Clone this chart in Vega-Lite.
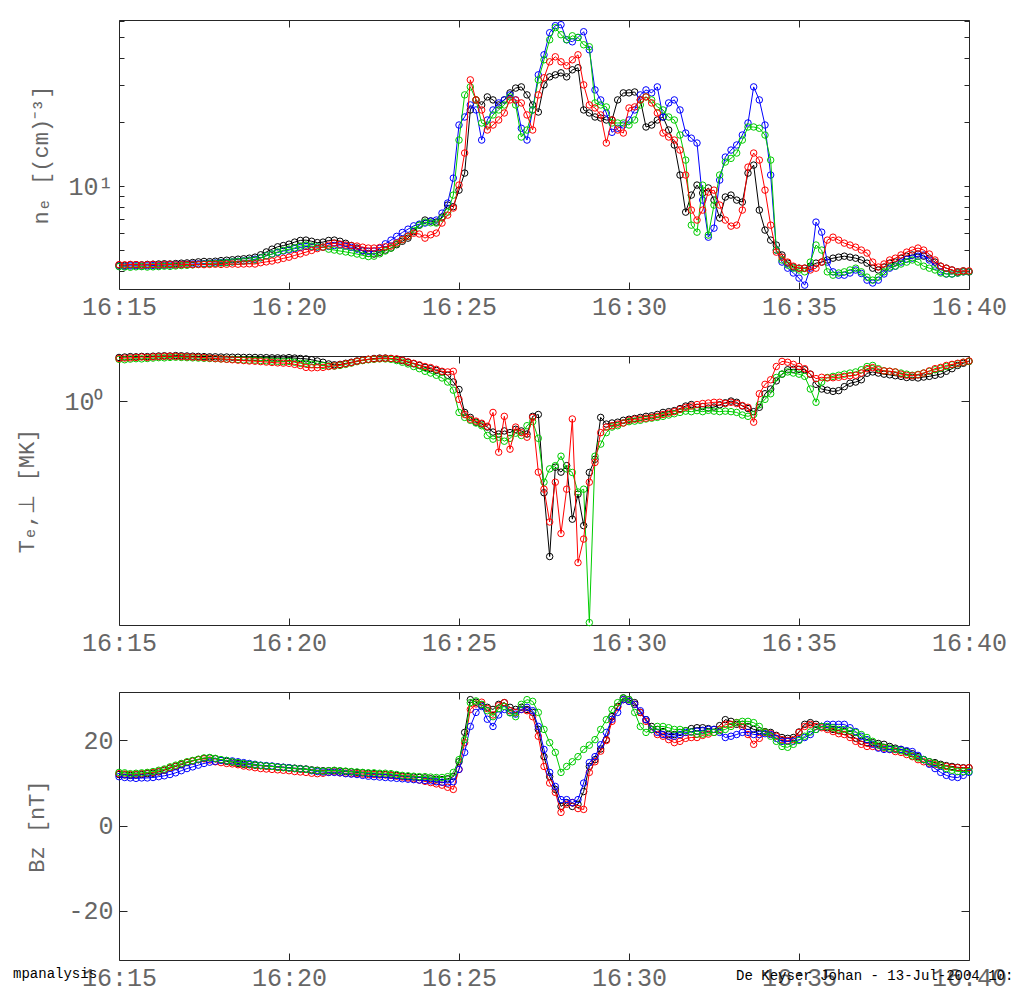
{
"$schema": "https://vega.github.io/schema/vega-lite/v6.json",
"background": "#ffffff",
"padding": {"left": 12, "top": 8, "right": 0, "bottom": 0},
"spacing": 67,
"bounds": "flush",
"data": {"values": [
{"t":900,"nK":4.25,"nB":4.20,"nR":4.27,"nG":4.18,"TK":1.193,"TR":1.188,"TG":1.184,"BK":12.0,"BB":11.5,"BR":12.2,"BG":12.5},
{"t":910,"nK":4.24,"nB":4.19,"nR":4.26,"nG":4.16,"TK":1.195,"TR":1.190,"TG":1.182,"BK":11.9,"BB":11.3,"BR":12.1,"BG":12.4},
{"t":920,"nK":4.26,"nB":4.21,"nR":4.28,"nG":4.15,"TK":1.197,"TR":1.191,"TG":1.185,"BK":11.8,"BB":11.2,"BR":12.0,"BG":12.2},
{"t":930,"nK":4.27,"nB":4.22,"nR":4.27,"nG":4.17,"TK":1.196,"TR":1.193,"TG":1.187,"BK":11.9,"BB":11.1,"BR":12.1,"BG":12.3},
{"t":940,"nK":4.26,"nB":4.20,"nR":4.25,"nG":4.18,"TK":1.198,"TR":1.195,"TG":1.186,"BK":12.0,"BB":11.2,"BR":12.2,"BG":12.4},
{"t":950,"nK":4.28,"nB":4.22,"nR":4.27,"nG":4.16,"TK":1.197,"TR":1.193,"TG":1.188,"BK":12.2,"BB":11.2,"BR":12.4,"BG":12.5},
{"t":960,"nK":4.29,"nB":4.23,"nR":4.28,"nG":4.17,"TK":1.199,"TR":1.196,"TG":1.190,"BK":12.3,"BB":11.3,"BR":12.5,"BG":12.7},
{"t":970,"nK":4.30,"nB":4.22,"nR":4.26,"nG":4.18,"TK":1.200,"TR":1.197,"TG":1.192,"BK":12.6,"BB":11.5,"BR":12.8,"BG":13.0},
{"t":980,"nK":4.31,"nB":4.24,"nR":4.27,"nG":4.20,"TK":1.201,"TR":1.198,"TG":1.191,"BK":13.0,"BB":11.7,"BR":13.1,"BG":13.3},
{"t":990,"nK":4.30,"nB":4.25,"nR":4.28,"nG":4.19,"TK":1.200,"TR":1.199,"TG":1.193,"BK":13.5,"BB":12.0,"BR":13.6,"BG":13.8},
{"t":1000,"nK":4.32,"nB":4.26,"nR":4.26,"nG":4.21,"TK":1.202,"TR":1.198,"TG":1.194,"BK":13.9,"BB":12.4,"BR":14.0,"BG":14.2},
{"t":1010,"nK":4.34,"nB":4.27,"nR":4.27,"nG":4.23,"TK":1.201,"TR":1.197,"TG":1.193,"BK":14.3,"BB":12.9,"BR":14.5,"BG":14.6},
{"t":1020,"nK":4.35,"nB":4.28,"nR":4.28,"nG":4.24,"TK":1.200,"TR":1.196,"TG":1.192,"BK":14.8,"BB":13.4,"BR":14.9,"BG":15.0},
{"t":1030,"nK":4.37,"nB":4.30,"nR":4.27,"nG":4.26,"TK":1.199,"TR":1.195,"TG":1.191,"BK":15.2,"BB":13.8,"BR":15.2,"BG":15.3},
{"t":1040,"nK":4.40,"nB":4.31,"nR":4.28,"nG":4.28,"TK":1.198,"TR":1.194,"TG":1.190,"BK":15.5,"BB":14.2,"BR":15.5,"BG":15.6},
{"t":1050,"nK":4.42,"nB":4.32,"nR":4.27,"nG":4.30,"TK":1.197,"TR":1.192,"TG":1.189,"BK":15.8,"BB":14.6,"BR":15.7,"BG":15.9},
{"t":1060,"nK":4.41,"nB":4.33,"nR":4.28,"nG":4.32,"TK":1.196,"TR":1.190,"TG":1.188,"BK":15.9,"BB":14.9,"BR":15.4,"BG":16.0},
{"t":1070,"nK":4.43,"nB":4.35,"nR":4.29,"nG":4.33,"TK":1.196,"TR":1.188,"TG":1.187,"BK":15.7,"BB":15.1,"BR":15.0,"BG":15.8},
{"t":1080,"nK":4.46,"nB":4.37,"nR":4.28,"nG":4.35,"TK":1.195,"TR":1.186,"TG":1.186,"BK":15.4,"BB":15.3,"BR":14.8,"BG":15.5},
{"t":1090,"nK":4.48,"nB":4.38,"nR":4.29,"nG":4.37,"TK":1.195,"TR":1.184,"TG":1.185,"BK":15.1,"BB":15.3,"BR":14.6,"BG":15.3},
{"t":1100,"nK":4.50,"nB":4.40,"nR":4.30,"nG":4.40,"TK":1.194,"TR":1.182,"TG":1.184,"BK":14.9,"BB":15.2,"BR":14.5,"BG":15.0},
{"t":1110,"nK":4.53,"nB":4.43,"nR":4.29,"nG":4.42,"TK":1.194,"TR":1.180,"TG":1.183,"BK":14.6,"BB":15.0,"BR":14.3,"BG":14.8},
{"t":1120,"nK":4.55,"nB":4.45,"nR":4.30,"nG":4.44,"TK":1.193,"TR":1.178,"TG":1.181,"BK":14.4,"BB":14.8,"BR":14.0,"BG":14.6},
{"t":1130,"nK":4.58,"nB":4.48,"nR":4.31,"nG":4.47,"TK":1.193,"TR":1.176,"TG":1.180,"BK":14.3,"BB":14.6,"BR":13.8,"BG":14.4},
{"t":1140,"nK":4.63,"nB":4.53,"nR":4.30,"nG":4.49,"TK":1.193,"TR":1.175,"TG":1.180,"BK":14.2,"BB":14.4,"BR":13.6,"BG":14.3},
{"t":1150,"nK":4.75,"nB":4.60,"nR":4.36,"nG":4.60,"TK":1.192,"TR":1.173,"TG":1.178,"BK":14.1,"BB":14.2,"BR":13.4,"BG":14.1},
{"t":1160,"nK":4.90,"nB":4.70,"nR":4.40,"nG":4.70,"TK":1.192,"TR":1.171,"TG":1.177,"BK":14.0,"BB":14.1,"BR":13.3,"BG":14.0},
{"t":1170,"nK":5.05,"nB":4.79,"nR":4.44,"nG":4.79,"TK":1.191,"TR":1.169,"TG":1.175,"BK":13.9,"BB":14.0,"BR":13.2,"BG":13.9},
{"t":1180,"nK":5.18,"nB":4.87,"nR":4.50,"nG":4.90,"TK":1.191,"TR":1.167,"TG":1.174,"BK":13.8,"BB":13.8,"BR":13.1,"BG":13.7},
{"t":1190,"nK":5.25,"nB":4.95,"nR":4.57,"nG":4.98,"TK":1.190,"TR":1.166,"TG":1.173,"BK":13.7,"BB":13.7,"BR":13.0,"BG":13.6},
{"t":1200,"nK":5.33,"nB":5.00,"nR":4.63,"nG":5.05,"TK":1.192,"TR":1.165,"TG":1.174,"BK":13.6,"BB":13.6,"BR":12.9,"BG":13.5},
{"t":1210,"nK":5.45,"nB":5.08,"nR":4.72,"nG":5.12,"TK":1.190,"TR":1.160,"TG":1.170,"BK":13.5,"BB":13.4,"BR":12.7,"BG":13.4},
{"t":1220,"nK":5.55,"nB":5.14,"nR":4.80,"nG":5.22,"TK":1.188,"TR":1.155,"TG":1.165,"BK":13.4,"BB":13.3,"BR":12.6,"BG":13.3},
{"t":1230,"nK":5.57,"nB":5.20,"nR":4.89,"nG":5.28,"TK":1.186,"TR":1.146,"TG":1.165,"BK":13.3,"BB":13.2,"BR":12.5,"BG":13.2},
{"t":1240,"nK":5.50,"nB":5.18,"nR":4.98,"nG":5.22,"TK":1.182,"TR":1.144,"TG":1.160,"BK":13.1,"BB":12.9,"BR":12.3,"BG":13.0},
{"t":1250,"nK":5.42,"nB":5.16,"nR":5.08,"nG":5.18,"TK":1.176,"TR":1.145,"TG":1.158,"BK":13.0,"BB":12.7,"BR":12.2,"BG":12.9},
{"t":1260,"nK":5.45,"nB":5.16,"nR":5.16,"nG":5.16,"TK":1.170,"TR":1.146,"TG":1.155,"BK":12.9,"BB":12.6,"BR":12.3,"BG":12.8},
{"t":1270,"nK":5.55,"nB":5.20,"nR":5.28,"nG":5.05,"TK":1.162,"TR":1.150,"TG":1.153,"BK":12.9,"BB":12.5,"BR":12.5,"BG":12.9},
{"t":1280,"nK":5.57,"nB":5.25,"nR":5.39,"nG":5.00,"TK":1.158,"TR":1.153,"TG":1.152,"BK":12.9,"BB":12.5,"BR":12.6,"BG":13.0},
{"t":1290,"nK":5.50,"nB":5.28,"nR":5.33,"nG":4.95,"TK":1.160,"TR":1.158,"TG":1.155,"BK":12.8,"BB":12.4,"BR":12.4,"BG":12.9},
{"t":1300,"nK":5.38,"nB":5.22,"nR":5.28,"nG":4.90,"TK":1.165,"TR":1.163,"TG":1.160,"BK":12.7,"BB":12.2,"BR":12.3,"BG":12.8},
{"t":1310,"nK":5.25,"nB":5.15,"nR":5.25,"nG":4.85,"TK":1.170,"TR":1.168,"TG":1.166,"BK":12.6,"BB":12.1,"BR":12.2,"BG":12.7},
{"t":1320,"nK":5.11,"nB":5.05,"nR":5.22,"nG":4.79,"TK":1.176,"TR":1.175,"TG":1.173,"BK":12.5,"BB":12.0,"BR":12.2,"BG":12.6},
{"t":1330,"nK":4.95,"nB":4.98,"nR":5.16,"nG":4.72,"TK":1.180,"TR":1.180,"TG":1.178,"BK":12.4,"BB":11.8,"BR":12.1,"BG":12.5},
{"t":1340,"nK":4.82,"nB":4.93,"nR":5.11,"nG":4.66,"TK":1.184,"TR":1.184,"TG":1.182,"BK":12.3,"BB":11.6,"BR":12.0,"BG":12.4},
{"t":1350,"nK":4.79,"nB":4.95,"nR":5.11,"nG":4.68,"TK":1.188,"TR":1.186,"TG":1.184,"BK":12.2,"BB":11.5,"BR":12.0,"BG":12.4},
{"t":1360,"nK":4.88,"nB":5.10,"nR":5.14,"nG":4.80,"TK":1.190,"TR":1.188,"TG":1.186,"BK":12.1,"BB":11.4,"BR":11.9,"BG":12.3},
{"t":1370,"nK":5.00,"nB":5.35,"nR":5.18,"nG":4.95,"TK":1.190,"TR":1.189,"TG":1.186,"BK":12.0,"BB":11.3,"BR":11.9,"BG":12.3},
{"t":1380,"nK":5.11,"nB":5.57,"nR":5.22,"nG":5.11,"TK":1.188,"TR":1.188,"TG":1.184,"BK":11.9,"BB":11.2,"BR":11.8,"BG":12.2},
{"t":1390,"nK":5.30,"nB":5.80,"nR":5.40,"nG":5.35,"TK":1.184,"TR":1.186,"TG":1.178,"BK":11.8,"BB":11.1,"BR":11.6,"BG":12.0},
{"t":1400,"nK":5.50,"nB":6.05,"nR":5.60,"nG":5.60,"TK":1.178,"TR":1.180,"TG":1.170,"BK":11.6,"BB":11.0,"BR":11.4,"BG":11.8},
{"t":1410,"nK":5.69,"nB":6.27,"nR":5.81,"nG":5.81,"TK":1.170,"TR":1.172,"TG":1.162,"BK":11.5,"BB":10.9,"BR":11.2,"BG":11.7},
{"t":1420,"nK":6.10,"nB":6.50,"nR":6.00,"nG":6.20,"TK":1.163,"TR":1.165,"TG":1.150,"BK":11.4,"BB":10.8,"BR":11.0,"BG":11.6},
{"t":1430,"nK":6.55,"nB":6.62,"nR":5.95,"nG":6.55,"TK":1.155,"TR":1.158,"TG":1.140,"BK":11.3,"BB":10.7,"BR":10.7,"BG":11.5},
{"t":1440,"nK":6.92,"nB":6.70,"nR":5.69,"nG":6.77,"TK":1.146,"TR":1.150,"TG":1.128,"BK":11.2,"BB":10.6,"BR":10.4,"BG":11.5},
{"t":1450,"nK":6.85,"nB":6.85,"nR":5.90,"nG":6.72,"TK":1.140,"TR":1.145,"TG":1.120,"BK":11.0,"BB":10.5,"BR":10.1,"BG":11.4},
{"t":1460,"nK":6.77,"nB":6.92,"nR":6.01,"nG":6.70,"TK":1.132,"TR":1.137,"TG":1.110,"BK":10.9,"BB":10.3,"BR":9.8,"BG":11.3},
{"t":1470,"nK":7.15,"nB":7.46,"nR":6.70,"nG":7.07,"TK":1.125,"TR":1.128,"TG":1.098,"BK":10.8,"BB":10.2,"BR":9.5,"BG":11.3},
{"t":1480,"nK":8.14,"nB":8.32,"nR":7.30,"nG":7.54,"TK":1.110,"TR":1.125,"TG":1.080,"BK":11.0,"BB":10.0,"BR":9.0,"BG":11.5},
{"t":1490,"nK":8.00,"nB":10.9,"nR":7.88,"nG":9.07,"TK":1.080,"TR":1.128,"TG":1.045,"BK":11.5,"BB":10.3,"BR":8.5,"BG":12.5},
{"t":1500,"nK":9.57,"nB":19.37,"nR":10.11,"nG":16.46,"TK":1.048,"TR":1.007,"TG":0.955,"BK":15.0,"BB":13.2,"BR":13.2,"BG":15.5},
{"t":1510,"nK":11.51,"nB":21.13,"nR":14.30,"nG":26.84,"TK":0.955,"TR":0.947,"TG":0.936,"BK":21.9,"BB":17.2,"BR":19.5,"BG":20.2},
{"t":1520,"nK":22.8,"nB":24.07,"nR":31.59,"nG":29.27,"TK":0.936,"TR":0.929,"TG":0.925,"BK":29.6,"BB":23.3,"BR":27.3,"BG":28.9},
{"t":1530,"nK":25.42,"nB":22.8,"nR":25.42,"nG":25.42,"TK":0.918,"TR":0.922,"TG":0.915,"BK":29.0,"BB":26.6,"BR":28.6,"BG":29.3},
{"t":1540,"nK":24.07,"nB":16.46,"nR":22.8,"nG":19.80,"TK":0.911,"TR":0.914,"TG":0.905,"BK":28.3,"BB":28.0,"BR":29.0,"BG":28.5},
{"t":1550,"nK":26.26,"nB":20.45,"nR":18.35,"nG":19.37,"TK":0.900,"TR":0.903,"TG":0.870,"BK":27.8,"BB":25.0,"BR":27.5,"BG":27.0},
{"t":1560,"nK":25.42,"nB":22.8,"nR":19.37,"nG":21.6,"TK":0.882,"TR":0.955,"TG":0.857,"BK":27.3,"BB":23.3,"BR":26.0,"BG":25.6},
{"t":1570,"nK":24.07,"nB":24.6,"nR":20.45,"nG":22.8,"TK":0.875,"TR":0.813,"TG":0.864,"BK":28.5,"BB":26.0,"BR":28.2,"BG":27.5},
{"t":1580,"nK":25.42,"nB":25.42,"nR":22.07,"nG":24.07,"TK":0.886,"TR":0.940,"TG":0.850,"BK":28.9,"BB":27.3,"BR":28.9,"BG":28.0},
{"t":1590,"nK":27.43,"nB":26.84,"nR":25.42,"nG":26.26,"TK":0.880,"TR":0.823,"TG":0.860,"BK":27.8,"BB":26.6,"BR":27.0,"BG":26.5},
{"t":1600,"nK":28.9,"nB":25.42,"nR":25.42,"nG":24.07,"TK":0.892,"TR":0.900,"TG":0.878,"BK":27.3,"BB":26.2,"BR":26.6,"BG":25.6},
{"t":1610,"nK":29.27,"nB":18.7,"nR":24.6,"nG":17.01,"TK":0.886,"TR":0.880,"TG":0.870,"BK":27.8,"BB":27.3,"BR":27.3,"BG":28.5},
{"t":1620,"nK":26.84,"nB":16.46,"nR":21.6,"nG":18.35,"TK":0.875,"TR":0.864,"TG":0.905,"BK":27.3,"BB":27.8,"BR":27.0,"BG":29.6},
{"t":1630,"nK":24.07,"nB":22.8,"nR":18.35,"nG":22.8,"TK":0.940,"TR":0.936,"TG":0.920,"BK":26.6,"BB":27.0,"BR":25.6,"BG":29.2},
{"t":1640,"nK":22.3,"nB":33.35,"nR":26.84,"nG":31.59,"TK":0.947,"TR":0.750,"TG":0.860,"BK":22.6,"BB":23.3,"BR":21.0,"BG":26.6},
{"t":1650,"nK":29.92,"nB":41.44,"nR":32.3,"nG":39.25,"TK":0.690,"TR":0.700,"TG":0.720,"BK":16.2,"BB":17.9,"BR":13.9,"BG":22.6},
{"t":1660,"nK":32.63,"nB":52.62,"nR":38.4,"nG":48.77,"TK":0.533,"TR":0.613,"TG":0.760,"BK":11.5,"BB":12.5,"BR":10.0,"BG":19.5},
{"t":1670,"nK":33.35,"nB":56.8,"nR":40.55,"nG":55.6,"TK":0.765,"TR":0.720,"TG":0.770,"BK":8.5,"BB":9.2,"BR":7.8,"BG":17.2},
{"t":1680,"nK":34.08,"nB":57.4,"nR":38.4,"nG":51.49,"TK":0.750,"TR":0.585,"TG":0.800,"BK":4.5,"BB":6.1,"BR":3.1,"BG":12.5},
{"t":1690,"nK":32.63,"nB":48.77,"nR":36.8,"nG":48.77,"TK":0.770,"TR":0.700,"TG":0.760,"BK":5.4,"BB":6.1,"BR":5.0,"BG":13.9},
{"t":1700,"nK":35.21,"nB":47.7,"nR":39.25,"nG":50.9,"TK":0.620,"TR":0.930,"TG":0.749,"BK":4.5,"BB":5.4,"BR":5.4,"BG":15.0},
{"t":1710,"nK":36.0,"nB":50.0,"nR":41.44,"nG":50.0,"TK":0.686,"TR":0.520,"TG":0.692,"BK":5.0,"BB":6.1,"BR":4.0,"BG":16.2},
{"t":1720,"nK":22.8,"nB":53.2,"nR":29.92,"nG":46.19,"TK":0.604,"TR":0.572,"TG":0.700,"BK":8.0,"BB":10.0,"BR":3.8,"BG":17.9},
{"t":1730,"nK":22.07,"nB":43.75,"nR":24.07,"nG":45.2,"TK":0.749,"TR":0.720,"TG":0.408,"BK":13.9,"BB":14.8,"BR":12.5,"BG":18.9},
{"t":1740,"nK":21.13,"nB":28.33,"nR":23.3,"nG":24.6,"TK":0.790,"TR":0.780,"TG":0.800,"BK":15.5,"BB":16.2,"BR":15.0,"BG":20.2},
{"t":1750,"nK":20.9,"nB":25.42,"nR":21.6,"nG":24.07,"TK":0.936,"TR":0.880,"TG":0.840,"BK":18.0,"BB":19.0,"BR":17.5,"BG":22.6},
{"t":1760,"nK":20.45,"nB":22.07,"nR":15.94,"nG":23.56,"TK":0.911,"TR":0.900,"TG":0.880,"BK":20.2,"BB":21.9,"BR":20.0,"BG":24.9},
{"t":1770,"nK":20.45,"nB":17.9,"nR":20.45,"nG":19.8,"TK":0.915,"TR":0.905,"TG":0.900,"BK":25.6,"BB":25.0,"BR":24.5,"BG":27.3},
{"t":1780,"nK":25.42,"nB":18.7,"nR":18.35,"nG":19.8,"TK":0.918,"TR":0.911,"TG":0.905,"BK":28.0,"BB":26.6,"BR":27.8,"BG":28.9},
{"t":1790,"nK":27.43,"nB":19.37,"nR":17.76,"nG":19.8,"TK":0.925,"TR":0.915,"TG":0.915,"BK":30.0,"BB":29.6,"BR":29.6,"BG":30.0},
{"t":1800,"nK":27.43,"nB":20.45,"nR":23.3,"nG":19.37,"TK":0.929,"TR":0.925,"TG":0.920,"BK":29.6,"BB":29.2,"BR":29.2,"BG":29.6},
{"t":1810,"nK":27.7,"nB":22.8,"nR":23.56,"nG":20.45,"TK":0.932,"TR":0.929,"TG":0.922,"BK":28.9,"BB":28.5,"BR":28.5,"BG":26.6},
{"t":1820,"nK":25.42,"nB":26.84,"nR":25.42,"nG":24.07,"TK":0.936,"TR":0.930,"TG":0.925,"BK":26.6,"BB":27.0,"BR":26.6,"BG":23.3},
{"t":1830,"nK":18.96,"nB":28.33,"nR":26.26,"nG":26.26,"TK":0.940,"TR":0.933,"TG":0.930,"BK":24.9,"BB":24.9,"BR":24.5,"BG":21.9},
{"t":1840,"nK":19.37,"nB":27.43,"nR":24.6,"nG":25.42,"TK":0.942,"TR":0.936,"TG":0.933,"BK":23.3,"BB":22.6,"BR":22.6,"BG":22.6},
{"t":1850,"nK":20.45,"nB":29.27,"nR":22.07,"nG":23.56,"TK":0.947,"TR":0.940,"TG":0.936,"BK":22.6,"BB":21.9,"BR":21.4,"BG":23.3},
{"t":1860,"nK":21.13,"nB":21.13,"nR":17.76,"nG":22.8,"TK":0.955,"TR":0.947,"TG":0.940,"BK":22.1,"BB":21.4,"BR":21.0,"BG":23.3},
{"t":1870,"nK":18.35,"nB":24.6,"nR":17.01,"nG":21.13,"TK":0.958,"TR":0.952,"TG":0.945,"BK":21.4,"BB":21.0,"BR":20.2,"BG":23.0},
{"t":1880,"nK":15.6,"nB":25.42,"nR":16.46,"nG":20.45,"TK":0.962,"TR":0.958,"TG":0.950,"BK":21.4,"BB":21.0,"BR":19.5,"BG":22.6},
{"t":1890,"nK":11.27,"nB":22.8,"nR":14.77,"nG":17.38,"TK":0.970,"TR":0.967,"TG":0.955,"BK":21.9,"BB":21.4,"BR":19.8,"BG":22.6},
{"t":1900,"nK":7.54,"nB":17.76,"nR":11.27,"nG":13.25,"TK":0.980,"TR":0.975,"TG":0.960,"BK":22.3,"BB":21.9,"BR":20.5,"BG":22.3},
{"t":1910,"nK":9.07,"nB":16.8,"nR":7.71,"nG":6.55,"TK":0.986,"TR":0.980,"TG":0.958,"BK":22.8,"BB":22.0,"BR":20.7,"BG":22.0},
{"t":1920,"nK":10.11,"nB":15.94,"nR":6.92,"nG":6.07,"TK":0.975,"TR":0.986,"TG":0.962,"BK":23.0,"BB":22.2,"BR":20.7,"BG":21.5},
{"t":1930,"nK":9.27,"nB":8.59,"nR":7.71,"nG":10.1,"TK":0.978,"TR":0.990,"TG":0.958,"BK":23.0,"BB":22.4,"BR":21.2,"BG":21.5},
{"t":1940,"nK":9.8,"nB":5.75,"nR":9.37,"nG":5.88,"TK":0.972,"TR":0.992,"TG":0.963,"BK":22.8,"BB":22.6,"BR":21.5,"BG":21.9},
{"t":1950,"nK":8.59,"nB":6.34,"nR":9.57,"nG":8.14,"TK":0.976,"TR":0.995,"TG":0.960,"BK":22.6,"BB":22.6,"BR":21.9,"BG":21.9},
{"t":1960,"nK":7.07,"nB":10.67,"nR":8.14,"nG":11.27,"TK":0.985,"TR":0.995,"TG":0.958,"BK":23.5,"BB":21.9,"BR":22.6,"BG":22.3},
{"t":1970,"nK":8.88,"nB":13.69,"nR":6.92,"nG":12.97,"TK":0.993,"TR":0.990,"TG":0.960,"BK":24.9,"BB":20.7,"BR":23.8,"BG":22.6},
{"t":1980,"nK":9.07,"nB":14.77,"nR":6.48,"nG":13.5,"TK":1.000,"TR":0.995,"TG":0.958,"BK":24.5,"BB":21.0,"BR":23.8,"BG":23.3},
{"t":1990,"nK":8.59,"nB":15.6,"nR":6.55,"nG":14.3,"TK":0.995,"TR":0.990,"TG":0.955,"BK":23.8,"BB":21.4,"BR":24.2,"BG":24.2},
{"t":2000,"nK":8.41,"nB":17.38,"nR":7.71,"nG":16.46,"TK":0.980,"TR":0.982,"TG":0.945,"BK":23.8,"BB":21.9,"BR":23.3,"BG":24.5},
{"t":2010,"nK":11.51,"nB":19.8,"nR":12.28,"nG":18.96,"TK":0.970,"TR":0.975,"TG":0.940,"BK":23.3,"BB":21.9,"BR":21.4,"BG":24.5},
{"t":2020,"nK":12.55,"nB":29.27,"nR":14.3,"nG":18.96,"TK":0.958,"TR":0.918,"TG":0.947,"BK":22.6,"BB":21.4,"BR":19.1,"BG":24.2},
{"t":2030,"nK":7.71,"nB":25.42,"nR":13.25,"nG":18.7,"TK":0.975,"TR":1.030,"TG":0.985,"BK":22.3,"BB":21.4,"BR":20.5,"BG":23.3},
{"t":2040,"nK":6.21,"nB":19.37,"nR":9.57,"nG":17.38,"TK":1.030,"TR":1.070,"TG":1.007,"BK":22.1,"BB":21.6,"BR":21.9,"BG":22.0},
{"t":2050,"nK":5.57,"nB":11.27,"nR":6.55,"nG":13.25,"TK":1.050,"TR":1.090,"TG":1.030,"BK":21.9,"BB":21.4,"BR":21.6,"BG":21.0},
{"t":2060,"nK":5.28,"nB":5.0,"nR":4.89,"nG":5.0,"TK":1.085,"TR":1.150,"TG":1.100,"BK":21.2,"BB":20.5,"BR":21.0,"BG":19.8},
{"t":2070,"nK":4.74,"nB":4.39,"nR":4.63,"nG":4.49,"TK":1.115,"TR":1.174,"TG":1.115,"BK":20.7,"BB":19.8,"BR":20.2,"BG":18.6},
{"t":2080,"nK":4.34,"nB":4.11,"nR":4.39,"nG":4.25,"TK":1.135,"TR":1.170,"TG":1.125,"BK":20.5,"BB":19.8,"BR":20.0,"BG":18.4},
{"t":2090,"nK":4.16,"nB":3.90,"nR":4.20,"nG":4.11,"TK":1.137,"TR":1.160,"TG":1.120,"BK":20.7,"BB":19.8,"BR":20.2,"BG":19.1},
{"t":2100,"nK":4.11,"nB":3.69,"nR":4.11,"nG":4.03,"TK":1.137,"TR":1.150,"TG":1.115,"BK":22.0,"BB":20.2,"BR":21.9,"BG":20.0},
{"t":2110,"nK":4.11,"nB":3.42,"nR":4.11,"nG":3.95,"TK":1.135,"TR":1.140,"TG":1.105,"BK":23.8,"BB":20.7,"BR":23.3,"BG":21.0},
{"t":2120,"nK":4.20,"nB":4.11,"nR":4.03,"nG":4.39,"TK":1.115,"TR":1.115,"TG":1.050,"BK":24.2,"BB":21.4,"BR":23.8,"BG":22.0},
{"t":2130,"nK":4.34,"nB":6.77,"nR":4.11,"nG":5.28,"TK":1.070,"TR":1.095,"TG":0.995,"BK":23.8,"BB":22.6,"BR":23.3,"BG":22.6},
{"t":2140,"nK":4.39,"nB":6.07,"nR":4.39,"nG":5.0,"TK":1.050,"TR":1.101,"TG":1.080,"BK":23.3,"BB":23.3,"BR":23.0,"BG":23.3},
{"t":2150,"nK":4.49,"nB":4.39,"nR":5.57,"nG":3.95,"TK":1.045,"TR":1.098,"TG":1.100,"BK":23.0,"BB":23.8,"BR":22.6,"BG":23.3},
{"t":2160,"nK":4.58,"nB":3.95,"nR":5.75,"nG":3.81,"TK":1.040,"TR":1.099,"TG":1.105,"BK":22.6,"BB":23.8,"BR":22.1,"BG":23.0},
{"t":2170,"nK":4.63,"nB":3.81,"nR":5.57,"nG":3.90,"TK":1.043,"TR":1.101,"TG":1.110,"BK":22.3,"BB":23.8,"BR":21.6,"BG":22.6},
{"t":2180,"nK":4.68,"nB":3.81,"nR":5.39,"nG":3.95,"TK":1.060,"TR":1.105,"TG":1.115,"BK":22.1,"BB":23.8,"BR":21.4,"BG":22.6},
{"t":2190,"nK":4.63,"nB":3.90,"nR":5.28,"nG":4.03,"TK":1.075,"TR":1.108,"TG":1.120,"BK":21.4,"BB":23.0,"BR":20.7,"BG":22.3},
{"t":2200,"nK":4.58,"nB":4.03,"nR":5.16,"nG":4.11,"TK":1.080,"TR":1.110,"TG":1.125,"BK":20.5,"BB":22.1,"BR":19.8,"BG":21.9},
{"t":2210,"nK":4.49,"nB":3.88,"nR":5.0,"nG":3.95,"TK":1.090,"TR":1.120,"TG":1.135,"BK":19.8,"BB":21.0,"BR":19.1,"BG":21.4},
{"t":2220,"nK":4.34,"nB":3.61,"nR":4.84,"nG":3.73,"TK":1.119,"TR":1.140,"TG":1.150,"BK":19.5,"BB":20.2,"BR":18.6,"BG":20.7},
{"t":2230,"nK":4.11,"nB":3.50,"nR":4.39,"nG":3.61,"TK":1.125,"TR":1.145,"TG":1.155,"BK":19.5,"BB":19.1,"BR":18.6,"BG":19.8},
{"t":2240,"nK":4.03,"nB":3.61,"nR":4.16,"nG":3.73,"TK":1.120,"TR":1.135,"TG":1.140,"BK":19.3,"BB":18.2,"BR":18.4,"BG":18.9},
{"t":2250,"nK":4.16,"nB":3.86,"nR":4.30,"nG":3.95,"TK":1.115,"TR":1.130,"TG":1.130,"BK":19.1,"BB":17.9,"BR":18.2,"BG":18.4},
{"t":2260,"nK":4.34,"nB":4.11,"nR":4.49,"nG":4.16,"TK":1.112,"TR":1.128,"TG":1.128,"BK":18.6,"BB":17.9,"BR":17.9,"BG":18.2},
{"t":2270,"nK":4.39,"nB":4.20,"nR":4.58,"nG":4.20,"TK":1.108,"TR":1.125,"TG":1.125,"BK":18.2,"BB":17.9,"BR":17.4,"BG":17.9},
{"t":2280,"nK":4.58,"nB":4.39,"nR":4.74,"nG":4.30,"TK":1.105,"TR":1.115,"TG":1.120,"BK":17.9,"BB":17.9,"BR":17.2,"BG":17.6},
{"t":2290,"nK":4.68,"nB":4.53,"nR":4.89,"nG":4.39,"TK":1.100,"TR":1.110,"TG":1.115,"BK":17.4,"BB":17.6,"BR":16.7,"BG":17.2},
{"t":2300,"nK":4.74,"nB":4.58,"nR":5.0,"nG":4.49,"TK":1.101,"TR":1.108,"TG":1.110,"BK":16.9,"BB":17.4,"BR":16.2,"BG":16.4},
{"t":2310,"nK":4.79,"nB":4.68,"nR":5.11,"nG":4.39,"TK":1.098,"TR":1.112,"TG":1.114,"BK":16.2,"BB":16.5,"BR":15.5,"BG":15.9},
{"t":2320,"nK":4.68,"nB":4.74,"nR":5.0,"nG":4.20,"TK":1.102,"TR":1.120,"TG":1.120,"BK":15.5,"BB":15.5,"BR":15.0,"BG":15.5},
{"t":2330,"nK":4.58,"nB":4.49,"nR":4.79,"nG":4.11,"TK":1.105,"TR":1.130,"TG":1.128,"BK":15.0,"BB":14.4,"BR":14.6,"BG":15.0},
{"t":2340,"nK":4.39,"nB":4.20,"nR":4.49,"nG":4.03,"TK":1.110,"TR":1.140,"TG":1.135,"BK":14.8,"BB":13.4,"BR":14.3,"BG":14.6},
{"t":2350,"nK":4.20,"nB":3.95,"nR":4.20,"nG":3.90,"TK":1.115,"TR":1.146,"TG":1.142,"BK":14.4,"BB":12.5,"BR":14.1,"BG":14.1},
{"t":2360,"nK":4.11,"nB":3.86,"nR":4.11,"nG":3.86,"TK":1.128,"TR":1.155,"TG":1.150,"BK":14.1,"BB":11.8,"BR":13.9,"BG":13.4},
{"t":2370,"nK":4.03,"nB":3.86,"nR":4.03,"nG":3.86,"TK":1.140,"TR":1.160,"TG":1.158,"BK":13.9,"BB":11.4,"BR":13.7,"BG":13.0},
{"t":2380,"nK":3.95,"nB":3.90,"nR":3.95,"nG":3.90,"TK":1.155,"TR":1.165,"TG":1.163,"BK":13.7,"BB":11.3,"BR":13.6,"BG":12.7},
{"t":2390,"nK":3.99,"nB":3.95,"nR":3.99,"nG":3.95,"TK":1.165,"TR":1.170,"TG":1.170,"BK":13.6,"BB":11.8,"BR":13.5,"BG":12.7},
{"t":2400,"nK":3.95,"nB":3.95,"nR":3.99,"nG":3.95,"TK":1.174,"TR":1.176,"TG":1.174,"BK":13.6,"BB":12.5,"BR":13.6,"BG":12.7}
]},
"vconcat": [
{
 "width": 850, "height": 269,
 "resolve": {"axis": {"x": "independent", "y": "independent"}},
 "layer": [
  {"mark": {"type": "line", "color": "#000000", "strokeWidth": 1, "point": {"filled": false, "size": 42, "strokeWidth": 1, "color": "#000000"}},
   "encoding": {
    "x": {"field": "t", "type": "quantitative", "scale": {"domain": [900, 2400], "nice": false, "zero": false},
          "axis": {"orient": "bottom", "values": [900, 1200, 1500, 1800, 2100, 2400], "labelExpr": "'16:' + (datum.value / 60)", "tickSize": -7, "labelPadding": 12, "labelFlush": false, "title": null}},
    "y": {"field": "nK", "type": "quantitative", "scale": {"type": "log", "domain": [3.28, 60.4], "nice": false, "zero": false},
          "axis": {"orient": "left", "values": [4, 5, 6, 7, 8, 9, 10, 20, 30, 40, 50, 60], "labelExpr": "datum.value == 10 ? '10¹' : ''", "tickSize": -5, "labelPadding": 11, "title": "nₑ [(cm)⁻³]", "minExtent": 60, "maxExtent": 60, "titlePadding": 7}}
   }},
  {"mark": {"type": "line", "color": "#0000ff", "strokeWidth": 1, "point": {"filled": false, "size": 42, "strokeWidth": 1, "color": "#0000ff"}},
   "encoding": {
    "x": {"field": "t", "type": "quantitative", "axis": null},
    "y": {"field": "nB", "type": "quantitative", "scale": {"type": "log"}, "axis": null}
   }},
  {"mark": {"type": "line", "color": "#00cc00", "strokeWidth": 1, "point": {"filled": false, "size": 42, "strokeWidth": 1, "color": "#00cc00"}},
   "encoding": {
    "x": {"field": "t", "type": "quantitative", "axis": null},
    "y": {"field": "nG", "type": "quantitative", "scale": {"type": "log"}, "axis": null}
   }},
  {"mark": {"type": "line", "color": "#ff0000", "strokeWidth": 1, "point": {"filled": false, "size": 42, "strokeWidth": 1, "color": "#ff0000"}},
   "encoding": {
    "x": {"field": "t", "type": "quantitative", "axis": {"orient": "top", "values": [900, 1200, 1500, 1800, 2100, 2400], "labels": false, "tickSize": -7, "title": null}},
    "y": {"field": "nR", "type": "quantitative", "scale": {"type": "log"}, "axis": {"orient": "right", "values": [4, 5, 6, 7, 8, 9, 10, 20, 30, 40, 50, 60], "labels": false, "tickSize": -5, "title": null}}
   }}
 ]
},
{
 "width": 850, "height": 269,
 "resolve": {"axis": {"x": "independent", "y": "independent"}},
 "layer": [
  {"mark": {"type": "line", "color": "#000000", "strokeWidth": 1, "point": {"filled": false, "size": 42, "strokeWidth": 1, "color": "#000000"}},
   "encoding": {
    "x": {"field": "t", "type": "quantitative", "scale": {"domain": [900, 2400], "nice": false, "zero": false},
          "axis": {"orient": "bottom", "values": [900, 1200, 1500, 1800, 2100, 2400], "labelExpr": "'16:' + (datum.value / 60)", "tickSize": -7, "labelPadding": 12, "labelFlush": false, "title": null}},
    "y": {"field": "TK", "type": "quantitative", "scale": {"type": "log", "domain": [0.404, 1.2], "nice": false, "zero": false},
          "axis": {"orient": "left", "values": [1], "labelExpr": "datum.value == 1 ? '10⁰' : ''", "tickSize": -8, "labelPadding": 24, "title": "Tₑ,⊥ [MK]", "minExtent": 60, "maxExtent": 60, "titlePadding": 21}}
   }},
  {"mark": {"type": "line", "color": "#00cc00", "strokeWidth": 1, "point": {"filled": false, "size": 42, "strokeWidth": 1, "color": "#00cc00"}},
   "encoding": {
    "x": {"field": "t", "type": "quantitative", "axis": null},
    "y": {"field": "TG", "type": "quantitative", "scale": {"type": "log"}, "axis": null}
   }},
  {"mark": {"type": "line", "color": "#ff0000", "strokeWidth": 1, "point": {"filled": false, "size": 42, "strokeWidth": 1, "color": "#ff0000"}},
   "encoding": {
    "x": {"field": "t", "type": "quantitative", "axis": {"orient": "top", "values": [900, 1200, 1500, 1800, 2100, 2400], "labels": false, "tickSize": -7, "title": null}},
    "y": {"field": "TR", "type": "quantitative", "scale": {"type": "log"}, "axis": {"orient": "right", "values": [1], "labels": false, "tickSize": -8, "title": null}}
   }}
 ]
},
{
 "width": 850, "height": 268,
 "resolve": {"axis": {"x": "independent", "y": "independent"}},
 "layer": [
  {"mark": {"type": "line", "color": "#000000", "strokeWidth": 1, "point": {"filled": false, "size": 42, "strokeWidth": 1, "color": "#000000"}},
   "encoding": {
    "x": {"field": "t", "type": "quantitative", "scale": {"domain": [900, 2400], "nice": false, "zero": false},
          "axis": {"orient": "bottom", "values": [900, 1200, 1500, 1800, 2100, 2400], "labelExpr": "'16:' + (datum.value / 60)", "tickSize": -7, "labelPadding": 12, "labelFlush": false, "title": null}},
    "y": {"field": "BK", "type": "quantitative", "scale": {"domain": [-31.6, 31.4], "nice": false, "zero": false},
          "axis": {"orient": "left", "values": [-20, 0, 20], "labelExpr": "datum.value < 0 ? '-' + abs(datum.value) : '' + datum.value", "tickSize": -8, "labelPadding": 14, "title": "Bz [nT]", "minExtent": 60, "maxExtent": 60, "titlePadding": 11}}
   }},
  {"mark": {"type": "line", "color": "#ff0000", "strokeWidth": 1, "point": {"filled": false, "size": 42, "strokeWidth": 1, "color": "#ff0000"}},
   "encoding": {
    "x": {"field": "t", "type": "quantitative", "axis": null},
    "y": {"field": "BR", "type": "quantitative", "axis": null}
   }},
  {"mark": {"type": "line", "color": "#0000ff", "strokeWidth": 1, "point": {"filled": false, "size": 42, "strokeWidth": 1, "color": "#0000ff"}},
   "encoding": {
    "x": {"field": "t", "type": "quantitative", "axis": null},
    "y": {"field": "BB", "type": "quantitative", "axis": null}
   }},
  {"mark": {"type": "line", "color": "#00cc00", "strokeWidth": 1, "point": {"filled": false, "size": 42, "strokeWidth": 1, "color": "#00cc00"}},
   "encoding": {
    "x": {"field": "t", "type": "quantitative", "axis": {"orient": "top", "values": [900, 1200, 1500, 1800, 2100, 2400], "labels": false, "tickSize": -7, "title": null}},
    "y": {"field": "BG", "type": "quantitative", "axis": {"orient": "right", "values": [-20, 0, 20], "labels": false, "tickSize": -8, "title": null}}
   }},
  {"data": {"values": [{"label": "mpanalysis"}]},
   "mark": {"type": "text", "align": "left", "baseline": "alphabetic", "font": "Liberation Mono", "fontSize": 14, "color": "#000000"},
   "encoding": {
    "text": {"field": "label"},
    "x": {"datum": 713, "type": "quantitative", "axis": null},
    "y": {"datum": -35.9, "type": "quantitative", "axis": null}
   }},
  {"data": {"values": [{"label": "De Keyser Johan - 13-Jul-2004 10:"}]},
   "mark": {"type": "text", "align": "left", "baseline": "alphabetic", "font": "Liberation Mono", "fontSize": 14, "color": "#000000"},
   "encoding": {
    "text": {"field": "label"},
    "x": {"datum": 1989, "type": "quantitative", "axis": null},
    "y": {"datum": -36.3, "type": "quantitative", "axis": null}
   }}
 ]
}
],
"config": {
 "view": {"stroke": "#262626", "strokeWidth": 1},
 "axis": {"grid": false, "domain": false, "tickColor": "#262626", "tickWidth": 1, "labelFont": "Liberation Mono", "labelFontSize": 25, "labelColor": "#666666", "titleFont": "Liberation Mono", "titleFontSize": 22, "titleFontWeight": "normal", "titleColor": "#666666", "labelOverlap": false}
}
}
